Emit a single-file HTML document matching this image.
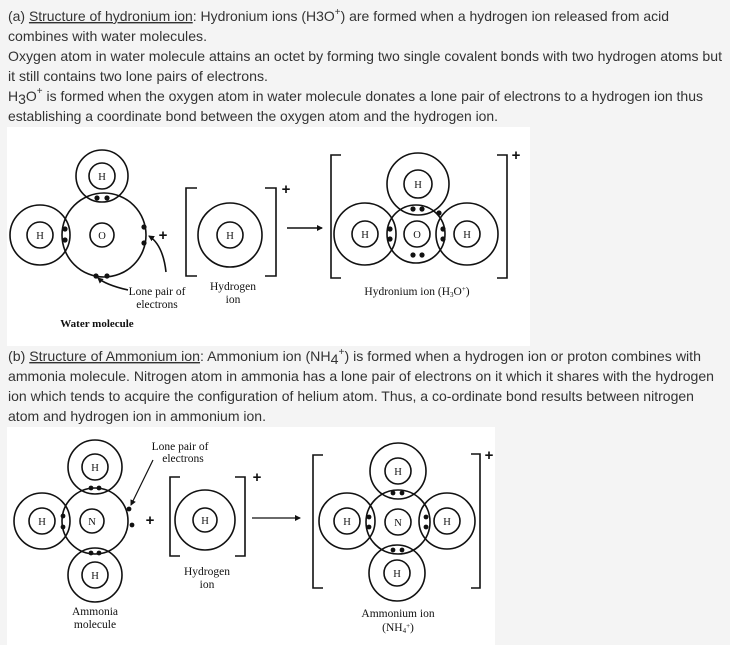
<!DOCTYPE html>
<html><head><meta charset="utf-8"><style>
html,body{margin:0;padding:0;background:#f4f4f4;}
svg{display:block}
.t{font-family:"Liberation Sans",sans-serif;font-size:14px;fill:#333}
.s{font-family:"Liberation Serif",serif;fill:#111}
</style></head><body>
<svg width="730" height="645" viewBox="0 0 730 645" xmlns="http://www.w3.org/2000/svg">
<rect width="730" height="645" fill="#f4f4f4"/>
<rect x="7" y="127" width="523" height="219" fill="#fff"/>
<rect x="7" y="427" width="488" height="218" fill="#fff"/>

<g class="t">
<text x="8" y="21" textLength="661" lengthAdjust="spacingAndGlyphs">(a) <tspan text-decoration="underline">Structure of hydronium ion</tspan>: Hydronium ions (H3O<tspan dy="-6" font-size="10">+</tspan><tspan dy="6">) are formed when a hydrogen ion released from acid</tspan></text>
<text x="8" y="41" textLength="199" lengthAdjust="spacingAndGlyphs">combines with water molecules.</text>
<text x="8" y="61" textLength="714" lengthAdjust="spacingAndGlyphs">Oxygen atom in water molecule attains an octet by forming two single covalent bonds with two hydrogen atoms but</text>
<text x="8" y="81" textLength="260" lengthAdjust="spacingAndGlyphs">it still contains two lone pairs of electrons.</text>
<text x="8" y="101" textLength="695" lengthAdjust="spacingAndGlyphs">H<tspan dy="3">3</tspan><tspan dy="-3">O</tspan><tspan dy="-7" font-size="10">+</tspan><tspan dy="7"> is formed when the oxygen atom in water molecule donates a lone pair of electrons to a hydrogen ion thus</tspan></text>
<text x="8" y="121" textLength="490" lengthAdjust="spacingAndGlyphs">establishing a coordinate bond between the oxygen atom and the hydrogen ion.</text>
<text x="8" y="361" textLength="693" lengthAdjust="spacingAndGlyphs">(b) <tspan text-decoration="underline">Structure of Ammonium ion</tspan>: Ammonium ion (NH<tspan dy="3">4</tspan><tspan dy="-9" font-size="10">+</tspan><tspan dy="6">) is formed when a hydrogen ion or proton combines with</tspan></text>
<text x="8" y="381" textLength="706" lengthAdjust="spacingAndGlyphs">ammonia molecule. Nitrogen atom in ammonia has a lone pair of electrons on it which it shares with the hydrogen</text>
<text x="8" y="401" textLength="686" lengthAdjust="spacingAndGlyphs">ion which tends to acquire the configuration of helium atom. Thus, a co-ordinate bond results between nitrogen</text>
<text x="8" y="421" textLength="258" lengthAdjust="spacingAndGlyphs">atom and hydrogen ion in ammonium ion.</text>
</g>

<defs><marker id="ah" markerWidth="6" markerHeight="6" refX="5" refY="3" orient="auto" markerUnits="userSpaceOnUse"><path d="M0,0 L6,3 L0,6 z" fill="#111"/></marker></defs>

<g fill="none" stroke="#111" stroke-width="1.6">
<circle cx="104" cy="235" r="42"/><circle cx="102" cy="235" r="12"/>
<circle cx="40" cy="235" r="30"/><circle cx="40" cy="235" r="13"/>
<circle cx="102" cy="176" r="26"/><circle cx="102" cy="176" r="13"/>
<path d="M166,272 Q163,245 149,236" marker-end="url(#ah)"/>
<path d="M128,290 Q106,285 98,278" marker-end="url(#ah)"/>
<path d="M197,188 H186 V276 H197 M265,188 H276 V276 H265"/>
<circle cx="230" cy="235" r="32"/><circle cx="230" cy="235" r="13"/>
<path d="M287,228 H322" marker-end="url(#ah)"/>
<path d="M341,155 H331 V278 H341 M497,155 H507 V278 H497"/>
<circle cx="416" cy="234" r="29"/><circle cx="417" cy="234" r="13"/>
<circle cx="418" cy="184" r="31"/><circle cx="418" cy="184" r="14"/>
<circle cx="365" cy="234" r="31"/><circle cx="365" cy="234" r="13"/>
<circle cx="467" cy="234" r="31"/><circle cx="467" cy="234" r="13"/>
<circle cx="95" cy="521" r="33"/><circle cx="92" cy="521" r="12"/>
<circle cx="95" cy="467" r="27"/><circle cx="95" cy="467" r="13"/>
<circle cx="95" cy="575" r="27"/><circle cx="95" cy="575" r="13"/>
<circle cx="42" cy="521" r="28"/><circle cx="42" cy="521" r="13"/>
<path d="M153,460 L131,505" stroke-width="1.2" marker-end="url(#ah)"/>
<path d="M180,477 H170 V556 H180 M235,477 H245 V556 H235"/>
<circle cx="205" cy="520" r="30"/><circle cx="205" cy="520" r="12"/>
<path d="M252,518 H300" stroke-width="1.2" marker-end="url(#ah)"/>
<path d="M323,455 H313 V588 H323 M471,454 H480 V588 H471"/>
<circle cx="398" cy="522" r="32"/><circle cx="398" cy="522" r="13"/>
<circle cx="398" cy="471" r="28"/><circle cx="398" cy="471" r="13"/>
<circle cx="397" cy="573" r="28"/><circle cx="397" cy="573" r="13"/>
<circle cx="347" cy="521" r="28"/><circle cx="347" cy="521" r="13"/>
<circle cx="447" cy="521" r="28"/><circle cx="447" cy="521" r="13"/>
</g>

<g fill="#111">
<circle cx="97" cy="198" r="2.6"/><circle cx="107" cy="198" r="2.6"/>
<circle cx="65" cy="229" r="2.6"/><circle cx="65" cy="240" r="2.6"/>
<circle cx="144" cy="227" r="2.6"/><circle cx="144" cy="243" r="2.6"/>
<circle cx="96" cy="276" r="2.6"/><circle cx="107" cy="276" r="2.6"/>
<circle cx="413" cy="209" r="2.6"/><circle cx="422" cy="209" r="2.6"/>
<circle cx="390" cy="229" r="2.6"/><circle cx="390" cy="239" r="2.6"/>
<circle cx="443" cy="229" r="2.6"/><circle cx="443" cy="239" r="2.6"/>
<circle cx="413" cy="255" r="2.6"/><circle cx="422" cy="255" r="2.6"/>
<circle cx="439" cy="213" r="2.6"/>
<circle cx="91" cy="488" r="2.4"/><circle cx="99" cy="488" r="2.4"/>
<circle cx="91" cy="553" r="2.4"/><circle cx="99" cy="553" r="2.4"/>
<circle cx="63" cy="516" r="2.4"/><circle cx="63" cy="527" r="2.4"/>
<circle cx="129" cy="509" r="2.4"/><circle cx="132" cy="525" r="2.4"/>
<circle cx="393" cy="493" r="2.4"/><circle cx="402" cy="493" r="2.4"/>
<circle cx="393" cy="550" r="2.4"/><circle cx="402" cy="550" r="2.4"/>
<circle cx="369" cy="517" r="2.4"/><circle cx="369" cy="527" r="2.4"/>
<circle cx="426" cy="517" r="2.4"/><circle cx="426" cy="527" r="2.4"/>
</g>

<g class="s" font-size="10.5" text-anchor="middle">
<text x="102" y="180">H</text><text x="40" y="239">H</text><text x="102" y="239">O</text>
<text x="230" y="239">H</text>
<text x="418" y="188">H</text><text x="365" y="238">H</text><text x="417" y="238">O</text><text x="467" y="238">H</text>
<text x="95" y="471">H</text><text x="42" y="525">H</text><text x="92" y="525">N</text><text x="95" y="579">H</text>
<text x="205" y="524">H</text>
<text x="398" y="475">H</text><text x="347" y="525">H</text><text x="398" y="526">N</text><text x="447" y="525">H</text><text x="397" y="577">H</text>
</g>
<g class="s" font-size="11.5" text-anchor="middle">
<text x="157" y="295">Lone pair of</text><text x="157" y="308">electrons</text>
<text x="97" y="327" font-weight="bold" font-size="11">Water molecule</text>
<text x="233" y="290">Hydrogen</text><text x="233" y="303">ion</text>
<text x="417" y="295">Hydronium ion (H<tspan font-size="7" dy="2">3</tspan><tspan dy="-2">O</tspan><tspan font-size="7" dy="-4">+</tspan><tspan dy="4">)</tspan></text>
<text x="180" y="450">Lone pair of</text><text x="183" y="462">electrons</text>
<text x="207" y="575">Hydrogen</text><text x="207" y="588">ion</text>
<text x="95" y="615">Ammonia</text><text x="95" y="628">molecule</text>
<text x="398" y="617">Ammonium ion</text><text x="398" y="631">(NH<tspan font-size="7" dy="2">4</tspan><tspan font-size="7" dy="-5">+</tspan><tspan dy="3">)</tspan></text>
</g>
<g font-family="Liberation Sans,sans-serif" font-size="15" font-weight="bold" fill="#111" text-anchor="middle">
<text x="163" y="240">+</text><text x="286" y="194">+</text><text x="516" y="160">+</text>
<text x="150" y="525">+</text><text x="257" y="482">+</text><text x="489" y="460">+</text>
</g>
</svg>
</body></html>
